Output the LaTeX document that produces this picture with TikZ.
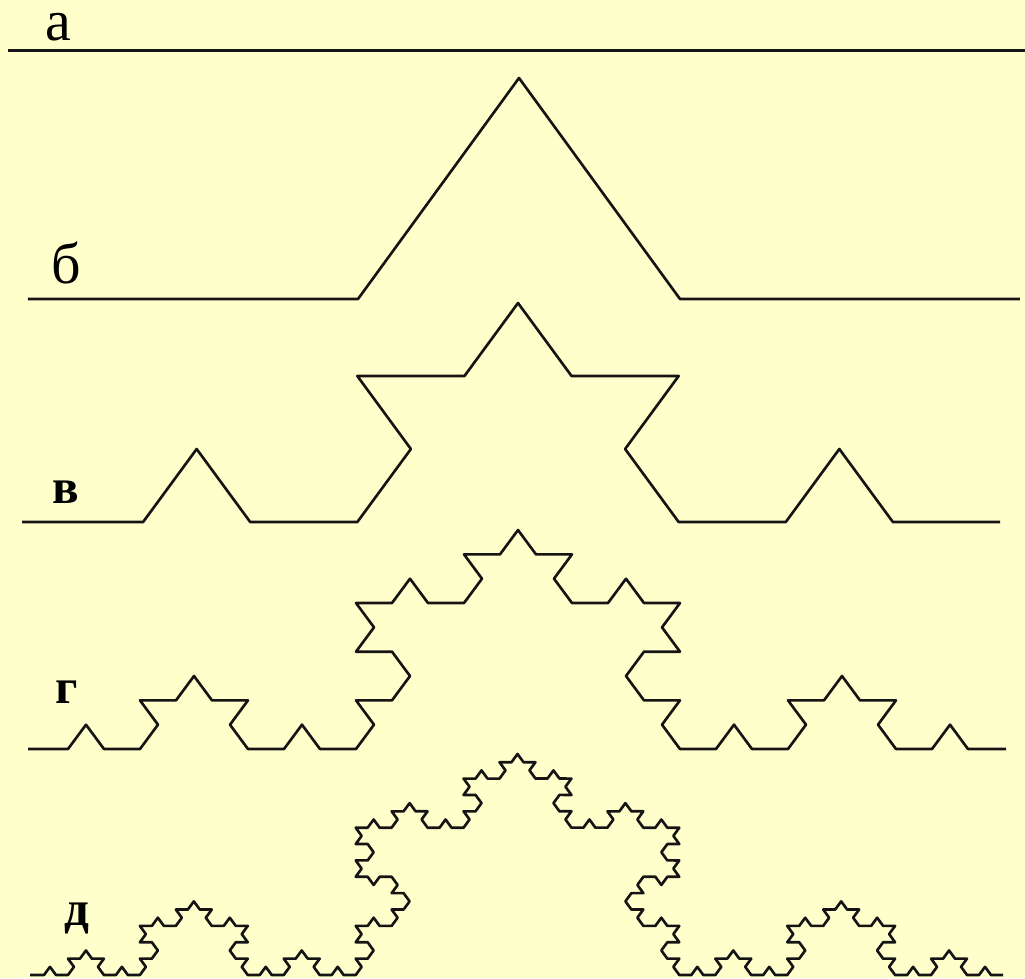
\documentclass[tikz,border=0pt]{standalone}
\usepackage{fontspec}
\setmainfont{Liberation Serif}
\usepackage{xcolor}
\usepackage{tikz}
\definecolor{paper}{RGB}{255,255,204}
\definecolor{ink}{RGB}{20,20,20}

% points of a Koch curve, collected in \kochlist
\newcommand\kochlist{}
\newcommand\kochadd[5]{%
  \begingroup
  \ifnum#1=0
    \xdef\kochlist{\kochlist -- (#4,#5)}%
  \else
    \pgfmathsetmacro\kax{#2+(#4-#2)/3}%
    \pgfmathsetmacro\kay{#3+(#5-#3)/3}%
    \pgfmathsetmacro\kbx{#2+2*(#4-#2)/3}%
    \pgfmathsetmacro\kby{#3+2*(#5-#3)/3}%
    \pgfmathsetmacro\kcx{(#2+#4)/2-0.288675*(#5-#3)}%
    \pgfmathsetmacro\kcy{(#3+#5)/2+0.288675*(#4-#2)}%
    \pgfmathtruncatemacro\klev{#1-1}%
    \edef\kdo{%
      \noexpand\kochadd{\klev}{#2}{#3}{\kax}{\kay}%
      \noexpand\kochadd{\klev}{\kax}{\kay}{\kcx}{\kcy}%
      \noexpand\kochadd{\klev}{\kcx}{\kcy}{\kbx}{\kby}%
      \noexpand\kochadd{\klev}{\kbx}{\kby}{#4}{#5}}%
    \kdo
  \fi
  \endgroup}

\begin{document}
\begin{tikzpicture}[
    curve/.style={draw=ink, line width=0.75pt, line join=round},
    tag/.style={font=\fontsize{16.5}{18}\selectfont, inner sep=0pt, anchor=base},
    tagb/.style={font=\bfseries\fontsize{14}{16}\selectfont, inner sep=0pt, anchor=base},
    row/.style n args={4}{shift={(#1,#2)}, x={(#3cm,0cm)}, y={(0cm,#4cm)}}
]
    \useasboundingbox (0,0) rectangle (10.25,-9.78);
    \fill[paper] (0,0) rectangle (10.25,-9.78);

    % Labels
    \node[tag] (label_a) at (0.58,-0.40) {а};
    \node[tag] (label_b) at (0.66,-2.83) {б};
    \node[tagb] (label_v) at (0.66,-5.03) {в};
    \node[tagb] (label_g) at (0.67,-7.03) {г};
    \node[tagb] (label_d) at (0.77,-9.25) {д};

    % Step 0
    \coordinate (a_start) at (0.08,-0.50);
    \coordinate (a_end) at (10.25,-0.50);
    \draw[curve, line width=0.85pt] (a_start) -- (a_end);

    % Step 1
    \begin{scope}[row={0.36}{-2.99}{9.66}{7.656}]
        \gdef\kochlist{}\kochadd{1}{0}{0}{1}{0}
        \draw[curve] (-0.0083,0) -- (0,0) \kochlist -- (1.0186,0);
    \end{scope}

    % Step 2
    \begin{scope}[row={0.36}{-5.22}{9.64}{7.586}]
        \gdef\kochlist{}\kochadd{2}{0}{0}{1}{0}
        \draw[curve] (-0.0145,0) -- (0,0) \kochlist;
    \end{scope}

    % Step 3
    \begin{scope}[row={0.32}{-7.49}{9.72}{7.586}]
        \gdef\kochlist{}\kochadd{3}{0}{0}{1}{0}
        \draw[curve] (-0.0041,0) -- (0,0) \kochlist -- (1.0021,0);
    \end{scope}

    % Step 4
    \begin{scope}[row={0.32}{-9.75}{9.71}{7.656}]
        \gdef\kochlist{}\kochadd{4}{0}{0}{1}{0}
        \draw[curve] (-0.002,0) -- (0,0) \kochlist;
    \end{scope}

\end{tikzpicture}
\end{document}
